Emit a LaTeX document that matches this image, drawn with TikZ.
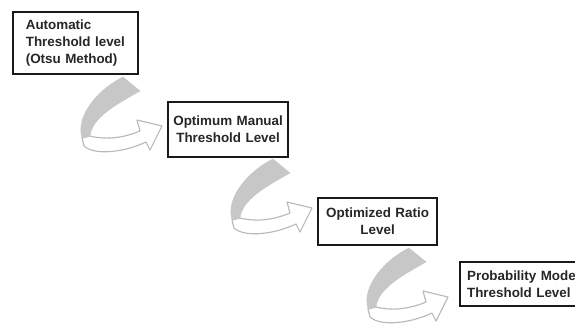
\documentclass[tikz,border=0pt]{standalone}
\usepackage{fontspec}
\setmainfont{Liberation Sans}
\tikzset{
  stepbox/.style={draw=black!90, line width=2.2pt, fill=white, text=black!85,
    font=\bfseries\fontsize{13.4}{16.8}\selectfont, inner ysep=0pt, anchor=north west},
  ribbon/.style={draw=black!28, line width=1.1pt, fill=white, line join=round},
  band/.style={fill=black!22, draw=black!22, line width=0.4pt},
  curl/.pic={
    \filldraw[ribbon] (-41,52) .. controls (-21,57) and (-3,52) .. (9,47)
      -- (6,36) -- (31,42) -- (19,66) -- (15,58)
      .. controls (-6,68) and (-36,72) .. (-47,62) -- (-49,54) -- cycle;
    \filldraw[band] (-8,-7) -- (9,7) .. controls (-16,21) and (-39,34) .. (-41,52)
      -- (-49,54) .. controls (-56,31) and (-31,4) .. (-8,-7) -- cycle;
  }
}
\begin{document}
\begin{tikzpicture}[x=1pt,y=-1pt]
\clip (0,0) rectangle (575,327);
\fill[white] (0,0) rectangle (575,327);
\node[stepbox, minimum width=125pt, minimum height=62pt, text width=99.5pt, inner xsep=12.5pt, align=left] (b1) at (12,11)
  {Automatic\\Threshold level\\(Otsu Method)};
\node[stepbox, minimum width=120pt, minimum height=55pt, text width=114pt, inner xsep=3pt, align=center] (b2) at (167,101)
  {Optimum Manual\\Threshold Level};
\node[stepbox, minimum width=119pt, minimum height=47pt, text width=113pt, inner xsep=3pt, align=center] (b3) at (317,197)
  {Optimized Ratio\\Level};
\node[stepbox, minimum width=125pt, minimum height=44pt, text width=115pt, inner xsep=7pt, align=left] (b4) at (459,261)
  {Probability Model\\Threshold Level};
\pic at (131,84) {curl};
\pic at (281,166) {curl};
\pic at (417,255) {curl};
\end{tikzpicture}
\end{document}
